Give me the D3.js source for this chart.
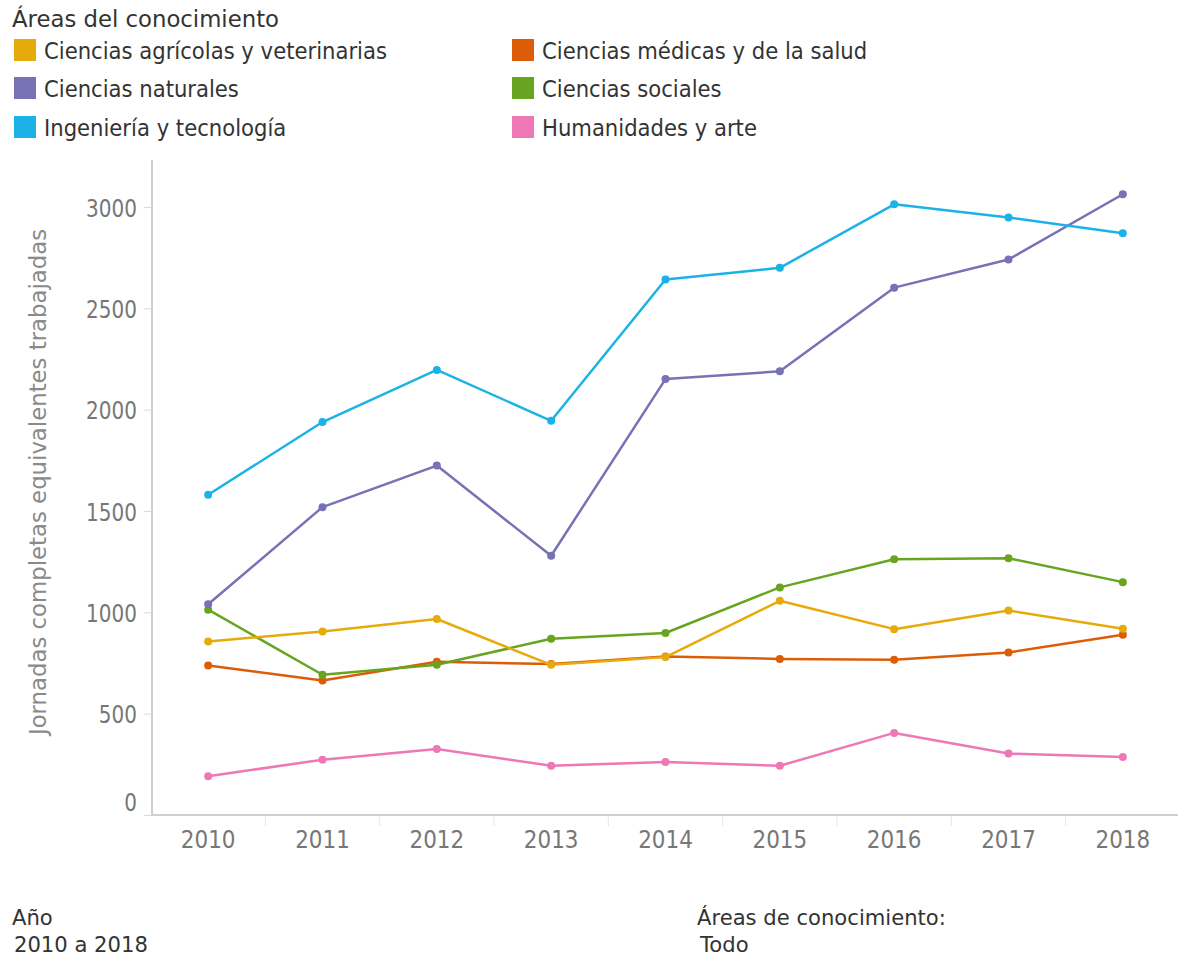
<!DOCTYPE html>
<html>
<head>
<meta charset="utf-8">
<script src="https://cdn.jsdelivr.net/npm/d3@7"></script>
<style>
  html, body { margin: 0; padding: 0; background: #fff; }
  svg { display: block; font-family: "DejaVu Sans", Verdana, sans-serif; }
</style>
</head>
<body>
<svg id="chart" width="1178" height="959"></svg>
<script>
const years = ["2010","2011","2012","2013","2014","2015","2016","2017","2018"];
const yTicks = [0, 500, 1000, 1500, 2000, 2500, 3000];

const agricolas   = [856, 906, 967, 741, 779, 1057, 917, 1009, 919];
const medicas     = [738, 664, 756, 745, 782, 770, 766, 802, 889];
const naturales   = [1040, 1519, 1724, 1279, 2151, 2189, 2602, 2741, 3063];
const sociales    = [1013, 692, 741, 870, 898, 1123, 1262, 1267, 1149];
const ingenieria  = [1580, 1939, 2196, 1945, 2642, 2700, 3013, 2948, 2870];
const humanidades = [191, 273, 326, 243, 262, 243, 405, 303, 286];

const seriesNames = ["Ciencias agrícolas y veterinarias", "Ciencias médicas y de la salud",
  "Ciencias naturales", "Ciencias sociales", "Ingeniería y tecnología", "Humanidades y arte"];
const seriesValues = [agricolas, medicas, naturales, sociales, ingenieria, humanidades];
const seriesColors = ["#E6AA0A", "#DD5C08", "#7771B5", "#67A521", "#1CB2E8", "#EE78B6"];
const drawOrder = [5, 1, 3, 0, 2, 4];

const svg = d3.select("#chart");

// narrow the glyphs horizontally (reference font is tall and narrow)
function squeeze(sel, f) {
  sel.each(function () {
    const L = this.getComputedTextLength();
    d3.select(this).attr("textLength", L * f).attr("lengthAdjust", "spacingAndGlyphs");
  });
}

// Legend
svg.append("text").attr("x", 12).attr("y", 27).attr("font-size", 23).attr("fill", "#333")
  .text("Áreas del conocimiento").call(squeeze, 0.99);
const legCols = [14, 512];
const legRows = [50, 88, 127];
seriesNames.forEach((name, i) => {
  const cx = legCols[i % 2], cy = legRows[Math.floor(i / 2)];
  svg.append("rect").attr("x", cx).attr("y", cy - 11).attr("width", 22).attr("height", 22)
    .attr("fill", seriesColors[i]);
  svg.append("text").attr("x", cx + 30).attr("y", cy + 8.5).attr("font-size", 23.5)
    .attr("fill", "#333").text(name).call(squeeze, 0.9);
});

// Scales
const x = d3.scaleBand().domain(years).range([151, 1180]);
const y = d3.scaleLinear().domain([0, 3000]).range([815, 207]);

// Axes
const yAxis = svg.append("g").attr("transform", "translate(152,0)")
  .call(d3.axisLeft(y).tickValues(yTicks).tickFormat(d3.format("d")).tickSize(8).tickPadding(7));
yAxis.select(".domain").remove();
yAxis.selectAll(".tick line").attr("stroke", "#d8d8d8");
yAxis.selectAll(".tick text").attr("font-size", 25).attr("fill", "#777")
  .attr("font-family", "DejaVu Sans, Verdana, sans-serif")
  .attr("dy", d => d === 0 ? "-0.2em" : "0.36em")
  .call(squeeze, 0.8);

svg.append("line").attr("x1", 152).attr("x2", 152).attr("y1", 160).attr("y2", 816)
  .attr("stroke", "#cfcfcf").attr("stroke-width", 2);
svg.append("line").attr("x1", 151).attr("x2", 1178).attr("y1", 815).attr("y2", 815)
  .attr("stroke", "#cfcfcf").attr("stroke-width", 2);

const xAxis = svg.append("g").attr("transform", "translate(0,815)")
  .call(d3.axisBottom(x).tickSize(0).tickPadding(15));
xAxis.select(".domain").remove();
xAxis.selectAll(".tick text").attr("font-size", 25).attr("fill", "#777")
  .attr("font-family", "DejaVu Sans, Verdana, sans-serif")
  .call(squeeze, 0.86);
svg.append("g").selectAll("line").data(years.slice(1)).join("line")
  .attr("x1", d => x(d)).attr("x2", d => x(d)).attr("y1", 816).attr("y2", 826)
  .attr("stroke", "#e6e6e6").attr("stroke-width", 1);

// Y axis title
svg.append("text").attr("transform", "translate(46,482) rotate(-90)")
  .attr("text-anchor", "middle").attr("font-size", 23.5).attr("fill", "#8a8a8a")
  .text("Jornadas completas equivalentes trabajadas").call(squeeze, 0.97);

// Lines
const line = d3.line().x((d, i) => x(years[i]) + x.bandwidth() / 2).y(d => y(d));
drawOrder.forEach(i => {
  const g = svg.append("g");
  g.append("path").datum(seriesValues[i]).attr("d", line).attr("fill", "none")
    .attr("stroke", seriesColors[i]).attr("stroke-width", 2.5).attr("stroke-linejoin", "round");
  g.selectAll("circle").data(seriesValues[i]).join("circle")
    .attr("cx", (d, j) => x(years[j]) + x.bandwidth() / 2).attr("cy", d => y(d))
    .attr("r", 4).attr("fill", seriesColors[i]);
});

// Footer
const foot = [["Año", 12, 925], ["2010 a 2018", 14, 952], ["Áreas de conocimiento:", 697, 925], ["Todo", 700, 952]];
foot.forEach(f => {
  svg.append("text").attr("x", f[1]).attr("y", f[2]).attr("font-size", 22).attr("fill", "#333")
    .text(f[0]).call(squeeze, 0.96);
});
</script>
</body>
</html>
